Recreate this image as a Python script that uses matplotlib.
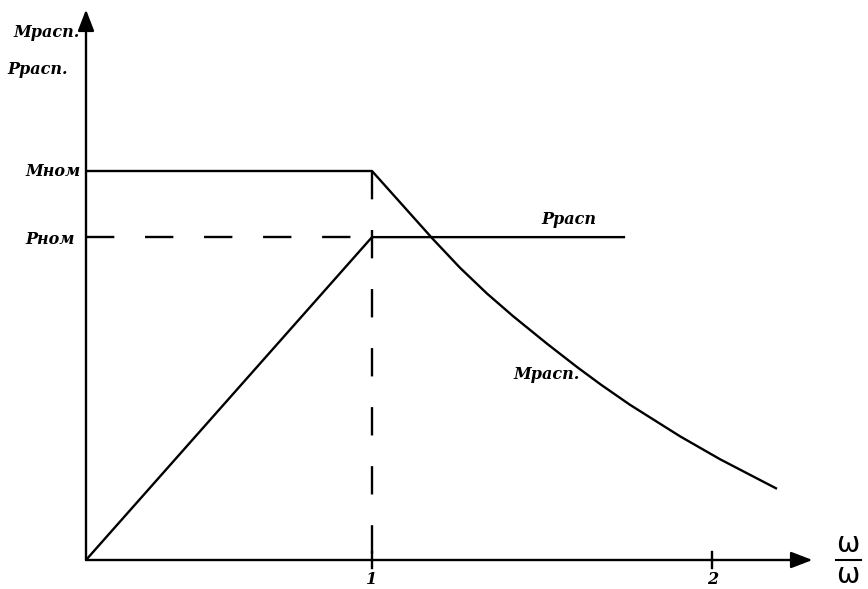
import matplotlib.pyplot as plt

# x in units of omega/omega_nom, y in units of M_nom
m_nom = 1.0
p_nom = 0.83

# Mрасп. curve (constant torque up to 1, then falling)
m_x = [0.0, 1.0, 1.213, 1.308, 1.402, 1.493, 1.612, 1.717, 1.80, 1.902, 2.077, 2.217, 2.416]
m_y = [1.0, 1.0, 0.825, 0.751, 0.685, 0.627, 0.556, 0.496, 0.451, 0.399, 0.318, 0.259, 0.183]

# Ррасп curve (rising to 1, then constant)
p_x = [0.0, 1.0, 1.885]
p_y = [0.0, 0.83, 0.83]

tick_pos = [1.0, 2.19]
tick_labels = ['1', '2']

fig = plt.figure(figsize=(8.68, 5.89), dpi=100)
ax = fig.add_axes([86 / 868, 29 / 589, (868 - 86) / 868, 560 / 589])
ax.set_xlim(0, (868 - 86) / 286)
ax.set_ylim(0, 560 / 389)
ax.axis('off')

lw = 1.7
ax.plot(m_x, m_y, color='black', lw=lw, solid_capstyle='butt', solid_joinstyle='round')
ax.plot(p_x, p_y, color='black', lw=lw, solid_capstyle='butt')

# dashed guide lines
ax.plot([0, 1.0], [p_nom, p_nom], color='black', lw=lw, dashes=(12, 13))
ax.plot([1.0, 1.0], [m_nom, 0], color='black', lw=lw, dashes=(12, 13))

# axes with arrows
arrow = dict(arrowstyle='-|>,head_length=1.3,head_width=0.5', color='black', lw=lw,
             shrinkA=0, shrinkB=0)
ax.annotate('', xy=(0, 1.415), xytext=(0, 0), arrowprops=arrow, annotation_clip=False)
ax.annotate('', xy=(2.54, 0), xytext=(0, 0), arrowprops=arrow, annotation_clip=False)

font = dict(family='DejaVu Serif', style='italic', weight='bold', fontsize=11.5)

# ticks
for t, lab in zip(tick_pos, tick_labels):
    ax.plot([t, t], [-0.02, 0.02], color='black', lw=lw, clip_on=False)
    ax.text(t, -0.027, lab, ha='center', va='top', **font)

ax.text(-0.02, 1.357, 'Мрасп.', ha='right', va='center', **font)
ax.text(-0.275, 1.26, 'Ррасп.', ha='left', va='center', **font)
ax.text(-0.02, m_nom, 'Мном', ha='right', va='center', **font)
ax.text(-0.04, p_nom - 0.007, 'Рном', ha='right', va='center', **font)
ax.text(1.69, 0.876, 'Ррасп', ha='center', va='center', **font)
ax.text(1.61, 0.476, 'Мрасп.', ha='center', va='center', **font)

# omega / omega label
ax.text(2.665, 0.042, 'ω', ha='center', va='center', fontsize=20, family='DejaVu Sans')
ax.text(2.665, -0.038, 'ω', ha='center', va='center', fontsize=20, family='DejaVu Sans')
ax.plot([2.622, 2.71], [0.0, 0.0], color='black', lw=1.5, clip_on=False)

fig.savefig('out.png', dpi=100)
